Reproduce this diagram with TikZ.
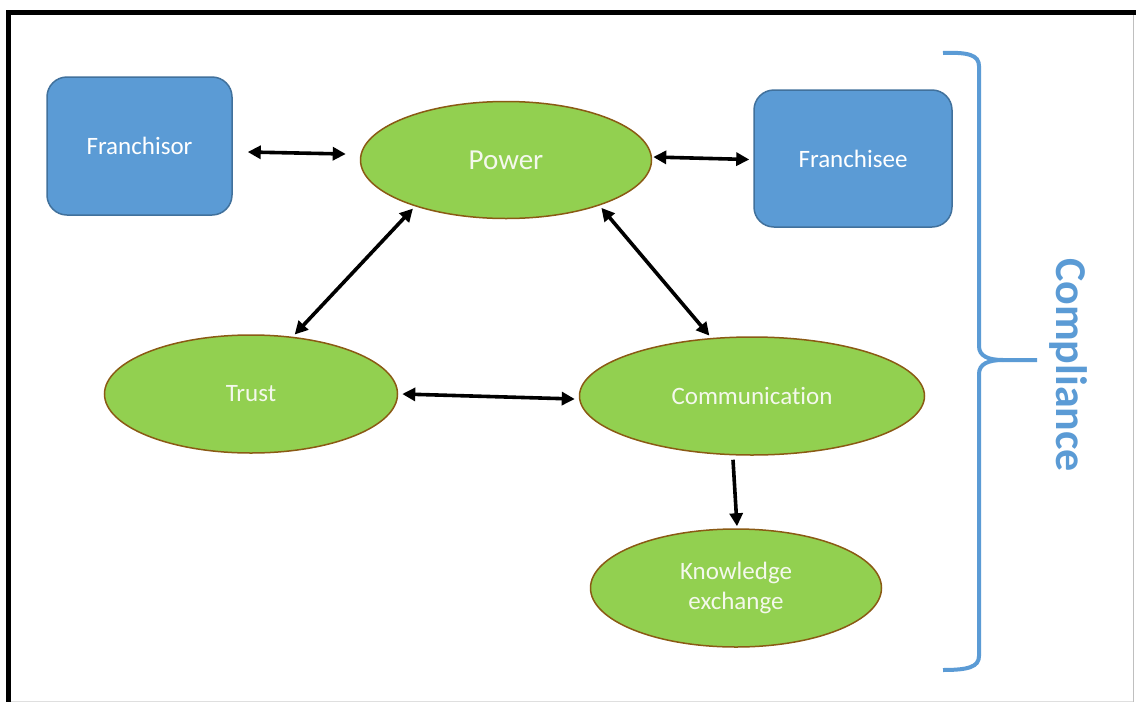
\documentclass[tikz,border=0pt]{standalone}
\usepackage{fontspec}
\setmainfont[Ligatures=NoCommon]{Carlito}
\usepackage{tikz}
\usetikzlibrary{shapes.geometric,arrows.meta,calc}
\definecolor{boxblue}{HTML}{5B9BD5}
\definecolor{boxedge}{HTML}{41719C}
\definecolor{leafgreen}{HTML}{92D050}
\definecolor{leafedge}{HTML}{8A5A14}
\definecolor{paletext}{HTML}{F4F8EC}
\definecolor{framegray}{HTML}{BFBFBF}

\begin{document}
\begin{tikzpicture}[x=1pt,y=-1pt,
  party/.style={draw=boxedge, fill=boxblue, line width=1.5pt, rounded corners=20pt,
    text=white, font=\fontsize{25}{30}\selectfont, inner sep=0pt},
  factor/.style={ellipse, draw=leafedge, fill=leafgreen, line width=1.5pt, inner sep=0pt,
    text=paletext, align=center, font=\fontsize{25}{30}\selectfont},
  link/.style={line width=3.6pt, {Triangle[length=13pt,width=13pt]}-{Triangle[length=13pt,width=13pt]}},
  onelink/.style={line width=3.6pt, -{Triangle[length=13pt,width=13pt]}}]
\useasboundingbox (0,0) rectangle (1136,702);
% Frame
\fill[white] (0,0) rectangle (1136,702);
\fill[black] (6,10) rectangle (1136,15);
\fill[black] (6,10) rectangle (11,702);
\draw[framegray, line width=1pt] (1133,15) -- (1133,702);
\draw[framegray!50, line width=1pt] (11,701) -- (1133,701);
% Parties
\node[party, minimum width=185pt, minimum height=138pt] (fsor) at (139.5,146) {Franchisor};
\node[party, minimum width=198pt, minimum height=137pt] (fsee) at (853,158.5) {Franchisee};
% Factors
\node[factor, minimum width=291pt, minimum height=117pt, font=\fontsize{29}{34}\selectfont] (power) at (506,160) {Power};
\node[factor, minimum width=293pt, minimum height=118pt] (trust) at (251,394) {Trust};
\node[factor, minimum width=345pt, minimum height=118pt] (comm) at (752,396) {Communication};
\node[factor, minimum width=291pt, minimum height=118pt] (know) at (736,588) {Knowledge\\exchange};
% Links
\draw[link] ([shift={(15,6)}]fsor.east) -- ([shift={(-14,-6)}]power.west);
\draw[link] ([shift={(1,-3)}]power.east) -- ([shift={(-4,1)}]fsee.west);
\draw[link, shorten <=3pt, shorten >=3pt] (power.207) -- (trust.54);
\draw[link, shorten <=3pt, shorten >=3pt] (power.334) -- (comm.125);
\draw[link] ([xshift=4]trust.east) -- ([shift={(-4,3)}]comm.west);
\draw[onelink] ([shift={(-19,4)}]comm.south) -- ([shift={(1,-2)}]know.north);
% Brace
\draw[boxblue, line width=4pt] (943,53) .. controls (968,52) and (979,55) .. (979,66)
  -- (979,346) .. controls (979,356) and (988,360) .. (1003,360) -- (1037,360);
\draw[boxblue, line width=4pt] (1003,360) .. controls (988,360) and (979,364) .. (979,374)
  -- (979,656) .. controls (979,667) and (968,670) .. (943,670);
\node[rotate=-90, text=boxblue, font=\fontsize{44}{50}\selectfont\bfseries] (compl) at (1068,365) {Compliance};
\end{tikzpicture}
\end{document}
